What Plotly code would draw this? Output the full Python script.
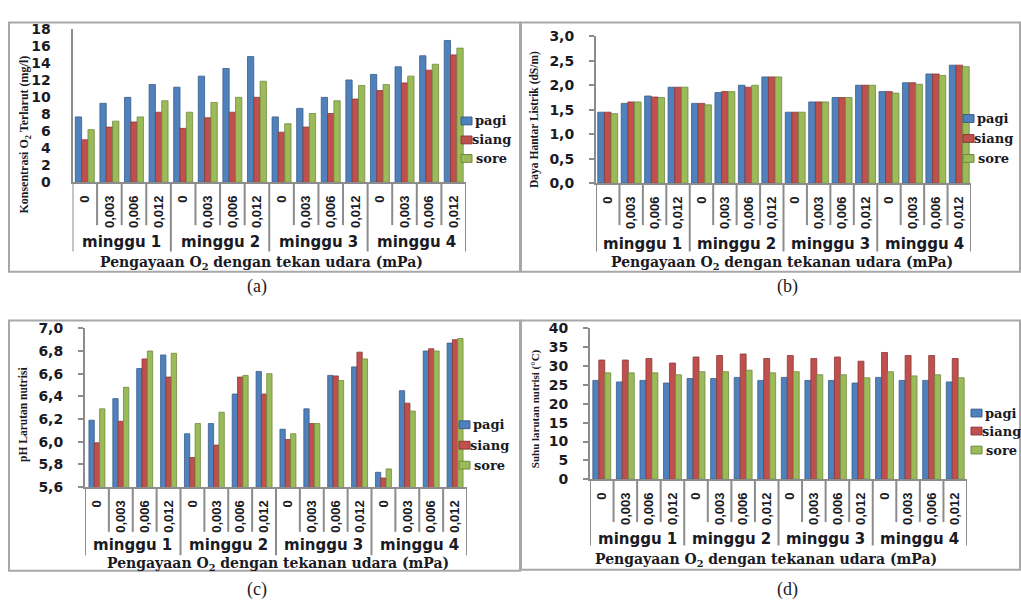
import plotly.graph_objects as go

W, H = 1021, 608

# ---- data -----------------------------------------------------------------
weeks = ["minggu 1", "minggu 2", "minggu 3", "minggu 4"]
levels = ["0", "0,003", "0,006", "0,012"]
series = ["pagi", "siang", "sore"]

# (a) dissolved O2 concentration (mg/l)
do_pagi = [7.7, 9.3, 10.0, 11.5, 11.2, 12.5, 13.4, 14.8, 7.7, 8.7, 10.0, 12.05, 12.7, 13.6, 14.9, 16.7]
do_siang = [5.0, 6.5, 7.1, 8.25, 6.35, 7.6, 8.25, 10.0, 5.9, 6.5, 8.1, 9.8, 10.8, 11.7, 13.2, 15.0]
do_sore = [6.2, 7.2, 7.7, 9.6, 8.25, 9.4, 10.0, 11.9, 6.9, 8.1, 9.6, 11.4, 11.5, 12.5, 13.9, 15.8]

# (b) electrical conductivity (dS/m)
ec_pagi = [1.45, 1.63, 1.78, 1.96, 1.63, 1.85, 2.00, 2.17, 1.45, 1.66, 1.75, 2.00, 1.87, 2.05, 2.23, 2.41]
ec_siang = [1.45, 1.66, 1.76, 1.96, 1.63, 1.87, 1.96, 2.17, 1.45, 1.66, 1.75, 2.00, 1.87, 2.05, 2.23, 2.41]
ec_sore = [1.42, 1.66, 1.75, 1.96, 1.60, 1.87, 2.00, 2.17, 1.45, 1.66, 1.75, 2.00, 1.84, 2.02, 2.20, 2.38]

# (c) pH of the nutrient solution
ph_pagi = [6.19, 6.38, 6.645, 6.765, 6.07, 6.16, 6.42, 6.62, 6.11, 6.29, 6.585, 6.66, 5.73, 6.45, 6.80, 6.87]
ph_siang = [5.99, 6.18, 6.73, 6.57, 5.86, 5.97, 6.57, 6.42, 6.02, 6.16, 6.58, 6.79, 5.68, 6.34, 6.82, 6.90]
ph_sore = [6.29, 6.48, 6.80, 6.78, 6.16, 6.26, 6.585, 6.60, 6.07, 6.16, 6.54, 6.73, 5.76, 6.27, 6.80, 6.91]

# (d) nutrient solution temperature (deg C)
t_pagi = [26.2, 25.8, 26.2, 25.5, 26.7, 26.7, 27.0, 26.2, 27.0, 26.2, 26.2, 25.5, 27.0, 26.2, 26.2, 25.8]
t_siang = [31.6, 31.6, 32.0, 30.8, 32.4, 32.8, 33.2, 32.0, 32.8, 32.0, 32.4, 31.3, 33.6, 32.8, 32.8, 32.0]
t_sore = [28.2, 28.2, 28.2, 27.7, 28.5, 28.5, 28.9, 28.2, 28.5, 27.7, 27.7, 26.9, 28.5, 27.4, 27.7, 26.9]

# ---- styling ----------------------------------------------------------------
COLORS = ["#4F81BD", "#C0504D", "#9BBB59"]
EDGES = ["#385D8A", "#8C3836", "#71893F"]
AXIS_GRAY = "#8C8C8C"
BOX_GRAY = "#A8A8A8"
INK = "#1A1A24"
SANS = "DejaVu Sans"
ARIAL = "Liberation Sans"
SERIF = "DejaVu Serif"
TSERIF = "Liberation Serif"


def fx(px):
    return px / W


def fy(py):
    return 1 - py / H


panels = [
    dict(s="", values=(do_pagi, do_siang, do_sore), x0=72.5, x1=466, ytop=22, ybot=179,
         yrange=[0, 18], dtick=2, fmt="d", ticks="", barw=0.257,
         ytitle="Konsentrasi O<sub>2</sub> Terlarut (mg/l)", ytx=25, yty=130, ytsize=12,
         xtitle="Pengayaan O<sub>2</sub> dengan tekan udara (mPa)", xtx=261, xty=262,
         inner_bot=223, group_bot=250, group_y=240,
         leg_x=461, leg_y=[116, 135.5, 154.5],
         box=(9, 15, 520, 271), cap="(a)", capx=257, capy=286),
    dict(s="2", values=(ec_pagi, ec_siang, ec_sore), x0=596, x1=971, ytop=29, ybot=180,
         yrange=[0, 3.0], dtick=0.5, fmt=".1f", ticks="outside", barw=0.283,
         ytitle="Daya Hantar Listrik (dS/m)", ytx=535, yty=115, ytsize=11.5,
         xtitle="Pengayaan O<sub>2</sub> dengan tekanan udara (mPa)", xtx=782, xty=262,
         inner_bot=223, group_bot=250, group_y=242,
         leg_x=963, leg_y=[113.5, 134, 154.5],
         box=(521, 15, 1020, 271), cap="(b)", capx=787, capy=286),
    dict(s="3", values=(ph_pagi, ph_siang, ph_sore), x0=85, x1=467, ytop=329, ybot=492,
         yrange=[5.6, 7.0], dtick=0.2, fmt=".1f", ticks="outside", barw=0.223,
         ytitle="pH Larutan nutrisi", ytx=23, yty=418, ytsize=11.5,
         xtitle="Pengayaan O<sub>2</sub> dengan tekanan udara (mPa)", xtx=278, xty=571,
         inner_bot=538, group_bot=562, group_y=552,
         leg_x=459, leg_y=[428, 449, 469.5],
         box=(9, 321, 520, 578), cap="(c)", capx=257, capy=597),
    dict(s="4", values=(t_pagi, t_siang, t_sore), x0=590, x1=967, ytop=329, ybot=484,
         yrange=[0, 40], dtick=5, fmt="d", ticks="outside", barw=0.253,
         ytitle="Suhu larutan nutrisi (°C)", ytx=535, yty=412, ytsize=11,
         xtitle="Pengayaan O<sub>2</sub> dengan tekanan udara (mPa)", xtx=766, xty=567,
         inner_bot=528, group_bot=552, group_y=545,
         leg_x=971, leg_y=[416, 434.5, 454],
         box=(521, 321, 1020, 577), cap="(d)", capx=787, capy=597),
]

n_cat = len(weeks) * len(levels)
xpos = list(range(n_cat))
ticktext = [lv for _ in weeks for lv in levels]

fig = go.Figure()
shapes = []
annotations = []
layout_axes = {}

for p in panels:
    s = p["s"]
    w = p["barw"]
    for k, (name, vals) in enumerate(zip(series, p["values"])):
        fig.add_trace(go.Bar(
            x=xpos, y=vals, name=name, width=w, offset=-1.5 * w + k * w,
            marker=dict(color=COLORS[k], line=dict(color=EDGES[k], width=0.8)),
            xaxis="x" + s, yaxis="y" + s, showlegend=False,
        ))

    layout_axes["xaxis" + s] = dict(
        domain=[fx(p["x0"]), fx(p["x1"])], anchor="y" + s, range=[-0.5, n_cat - 0.5],
        tickmode="array", tickvals=xpos, ticktext=ticktext, tickangle=-90,
        ticks="", showline=True, linecolor=AXIS_GRAY, linewidth=2, showgrid=False,
        zeroline=False, ticklabelstandoff=6,
        tickfont=dict(family=ARIAL, size=13, color=INK, weight="bold"),
    )
    layout_axes["yaxis" + s] = dict(
        domain=[fy(p["ybot"]), fy(p["ytop"])], anchor="x" + s, range=p["yrange"],
        tickmode="linear", tick0=p["yrange"][0], dtick=p["dtick"], tickformat=p["fmt"],
        ticks=p["ticks"], ticklen=5, tickcolor=AXIS_GRAY, tickwidth=2,
        showline=True, linecolor=AXIS_GRAY, linewidth=2, showgrid=False, zeroline=False,
        ticklabelstandoff=12 if p["ticks"] else 17,
        tickfont=dict(family=SANS, size=14, color=INK, weight="bold"),
    )

    # category dividers under the axis
    xr = "x" + s
    axis_y = fy(p["ybot"])
    for b in range(n_cat + 1):
        edge = b - 0.5
        bottom = p["group_bot"] if b % len(levels) == 0 else p["inner_bot"]
        shapes.append(dict(type="line", xref=xr, yref="paper", x0=edge, x1=edge,
                           y0=axis_y, y1=fy(bottom), line=dict(color=AXIS_GRAY, width=2)))

    # week labels
    for g, wk in enumerate(weeks):
        annotations.append(dict(
            x=g * len(levels) + (len(levels) - 1) / 2, y=fy(p["group_y"]), xref=xr, yref="paper",
            text=wk, showarrow=False, xanchor="center", yanchor="middle",
            font=dict(family=SANS, size=15, color=INK, weight="bold"),
        ))

    # axis titles
    annotations.append(dict(
        x=fx(p["ytx"]), y=fy(p["yty"]), xref="paper", yref="paper", text=p["ytitle"],
        textangle=-90, showarrow=False, xanchor="center", yanchor="middle",
        font=dict(family=TSERIF, size=p["ytsize"], color=INK, weight="bold"),
    ))
    annotations.append(dict(
        x=fx(p["xtx"]), y=fy(p["xty"]), xref="paper", yref="paper", text=p["xtitle"],
        showarrow=False, xanchor="center", yanchor="middle",
        font=dict(family=SERIF, size=14, color=INK, weight="bold"),
    ))

    # legend
    for k, name in enumerate(series):
        cy = p["leg_y"][k]
        shapes.append(dict(type="rect", xref="paper", yref="paper",
                           x0=fx(p["leg_x"]), x1=fx(p["leg_x"] + 11),
                           y0=fy(cy + 4), y1=fy(cy - 4),
                           fillcolor=COLORS[k], line=dict(color=EDGES[k], width=1)))
        annotations.append(dict(
            x=fx(p["leg_x"] + 30), y=fy(cy), xref="paper", yref="paper", text=name,
            showarrow=False, xanchor="center", yanchor="middle",
            font=dict(family=SERIF, size=13, color=INK, weight="bold"),
        ))

    # frame and caption
    bx0, by0, bx1, by1 = p["box"]
    shapes.append(dict(type="rect", xref="paper", yref="paper",
                       x0=fx(bx0), x1=fx(bx1), y0=fy(by1), y1=fy(by0),
                       line=dict(color=BOX_GRAY, width=2), fillcolor="rgba(0,0,0,0)"))
    annotations.append(dict(
        x=fx(p["capx"]), y=fy(p["capy"]), xref="paper", yref="paper", text=p["cap"],
        showarrow=False, xanchor="center", yanchor="middle",
        font=dict(family=TSERIF, size=18, color=INK),
    ))

fig.update_layout(
    width=W, height=H, margin=dict(l=0, r=0, t=0, b=0),
    paper_bgcolor="white", plot_bgcolor="white",
    barmode="overlay", separators=",.", showlegend=False,
    shapes=shapes, annotations=annotations,
    **layout_axes,
)

fig.write_html("out.html")
